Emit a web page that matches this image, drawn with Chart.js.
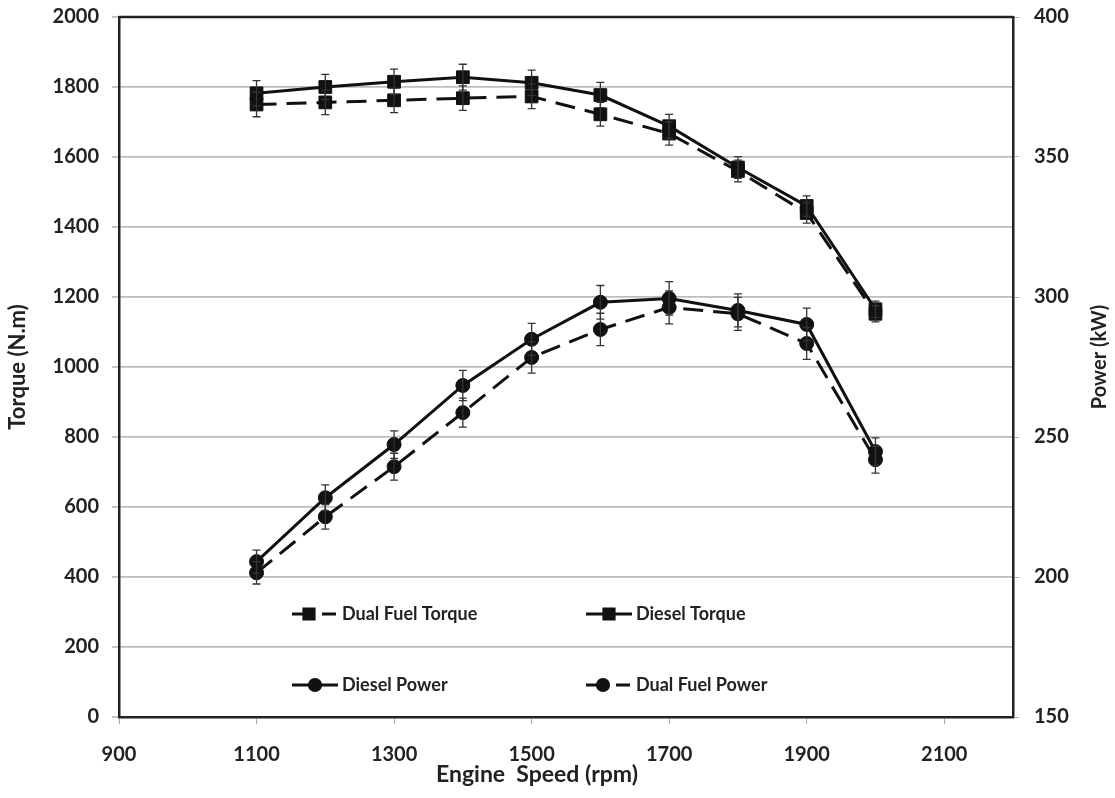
<!DOCTYPE html>
<html>
<head>
<meta charset="utf-8">
<script src="https://cdn.jsdelivr.net/npm/chart.js@4.4.1/dist/chart.umd.min.js"></script>
<style>
    html, body { margin: 0; padding: 0; background: #fff; }
    #wrap { width: 1115px; height: 798px; }
</style>
</head>
<body>
<div id="wrap"><canvas id="engineChart" width="1115" height="798"></canvas></div>
<script>
// Engine speed (rpm) of each measurement
const speeds = [1100, 1200, 1300, 1400, 1500, 1600, 1700, 1800, 1900, 2000];

// Torque (N.m), left axis
const dieselTorque   = [1782, 1800, 1815, 1828, 1812, 1777, 1688, 1570, 1460, 1165];
const dualTorque     = [1750, 1756, 1762, 1768, 1773, 1722, 1667, 1560, 1440, 1152];
const dieselTorqueErr = [36, 36, 36, 37, 36, 36, 34, 31, 29, 23];
const dualTorqueErr   = [35, 35, 35, 35, 35, 34, 33, 31, 29, 23];

// Power (kW), right axis
const dieselPower   = [205.5, 228.3, 247.3, 268.4, 284.9, 298.1, 299.5, 295.2, 290.2, 244.8];
const dualPower     = [201.5, 221.5, 239.4, 258.7, 278.4, 288.4, 296.3, 294.0, 283.4, 241.9];
const dieselPowerErr = [4.1, 4.6, 4.9, 5.4, 5.7, 6.0, 6.0, 5.9, 5.8, 4.9];
const dualPowerErr   = [4.0, 4.4, 4.8, 5.2, 5.6, 5.8, 5.9, 5.9, 5.7, 4.8];

// Axis ticks
const speedTicks = [900, 1100, 1300, 1500, 1700, 1900, 2100];
const torqueTicks = [0, 200, 400, 600, 800, 1000, 1200, 1400, 1600, 1800, 2000];
const powerTicks = [150, 200, 250, 300, 350, 400];

const FONT = 'Lato';
const INK = '#222';

function pairs(vals) {
    return vals.map((v, i) => ({ x: speeds[i], y: v }));
}

function series(label, vals, errs, axis, dashed, shape) {
    return {
        label: label,
        data: pairs(vals),
        errors: errs,
        yAxisID: axis,
        borderColor: '#111',
        backgroundColor: '#111',
        borderWidth: 3,
        borderDash: dashed ? [20, 10] : [],
        pointStyle: shape,
        pointRadius: shape === 'rect' ? 9 : 7,
        pointBorderWidth: 1,
        pointBackgroundColor: '#111',
        pointBorderColor: '#111',
        tension: 0
    };
}

// keep Chart.js from adding room for half tick labels
function noEdgePadding(s) {
    s.paddingTop = 0; s.paddingBottom = 0;
    s.paddingLeft = 0; s.paddingRight = 0;
}

// Error bars with small caps, drawn through the chart's own scales
const errorBars = {
    id: 'errorBars',
    afterDatasetsDraw(chart) {
        const ctx = chart.ctx;
        const xs = chart.scales.x;
        ctx.save();
        ctx.strokeStyle = '#333';
        ctx.lineWidth = 1.3;
        chart.data.datasets.forEach(ds => {
            const ys = chart.scales[ds.yAxisID];
            ds.data.forEach((p, i) => {
                const e = ds.errors[i];
                const x = xs.getPixelForValue(p.x);
                const yt = ys.getPixelForValue(p.y + e);
                const yb = ys.getPixelForValue(p.y - e);
                ctx.beginPath();
                ctx.moveTo(x, yt); ctx.lineTo(x, yb);
                ctx.moveTo(x - 4, yt); ctx.lineTo(x + 4, yt);
                ctx.moveTo(x - 4, yb); ctx.lineTo(x + 4, yb);
                ctx.stroke();
            });
        });
        ctx.restore();
    }
};

// Top frame line, axis titles that Chart.js can't place like Excel, and the 2 x 2 legend
const frameAndLegend = {
    id: 'frameAndLegend',
    afterDraw(chart, args, opts) {
        const ctx = chart.ctx;
        const a = chart.chartArea;
        ctx.save();
        ctx.strokeStyle = '#222';
        ctx.lineWidth = 2.5;
        ctx.beginPath();
        ctx.moveTo(a.left, a.top);
        ctx.lineTo(a.right, a.top);
        ctx.stroke();

        ctx.fillStyle = INK;
        ctx.textAlign = 'center';
        ctx.textBaseline = 'middle';

        // x title, sits a little left of the plot centre
        ctx.font = 'bold 23px ' + FONT;
        ctx.fillText('Engine  Speed (rpm)', a.left + opts.xTitleShift, chart.height - opts.xTitleInset);

        // right title, reads bottom to top
        ctx.save();
        ctx.translate(chart.width - opts.rightTitleInset, (a.top + a.bottom) / 2 - 10);
        ctx.rotate(-Math.PI / 2);
        ctx.font = 'bold 20px ' + FONT;
        ctx.fillText('Power (kW)', 0, 0);
        ctx.restore();

        chart.data.datasets.forEach((ds, i) => {
            const col = i % 2, row = Math.floor(i / 2);
            const x0 = a.left + opts.cols[col];
            const y0 = a.top + opts.rows[row];
            const dashed = ds.borderDash.length > 0;
            ctx.strokeStyle = '#111';
            ctx.lineWidth = 3;
            ctx.setLineDash(dashed ? [22, 8, 14, 100] : []);
            ctx.beginPath();
            ctx.moveTo(x0, y0);
            ctx.lineTo(x0 + opts.sample, y0);
            ctx.stroke();
            ctx.setLineDash([]);
            Chart.helpers.drawPoint(ctx, {
                pointStyle: ds.pointStyle,
                radius: ds.pointRadius * 0.8,
                borderWidth: 1
            }, x0 + (dashed ? 17 : opts.sample / 2), y0);
            ctx.fillStyle = '#111';
            ctx.fill();
            ctx.fillStyle = INK;
            ctx.font = 'bold 18px ' + FONT;
            ctx.textAlign = 'left';
            ctx.fillText(ds.label, x0 + opts.sample + 4, y0);
        });
        ctx.restore();
    }
};

const tickFont = { family: FONT, size: 20, weight: 'bold' };
const plain = v => String(v);

const ctx = document.getElementById('engineChart').getContext('2d');
new Chart(ctx, {
    type: 'line',
    data: {
        datasets: [
            series('Dual Fuel Torque', dualTorque, dualTorqueErr, 'y', true, 'rect'),
            series('Diesel Torque', dieselTorque, dieselTorqueErr, 'y', false, 'rect'),
            series('Diesel Power', dieselPower, dieselPowerErr, 'y1', false, 'circle'),
            series('Dual Fuel Power', dualPower, dualPowerErr, 'y1', true, 'circle')
        ]
    },
    plugins: [errorBars, frameAndLegend],
    options: {
        responsive: false,
        animation: false,
        devicePixelRatio: 1,
        layout: { padding: { top: 17, left: 0, right: 0, bottom: 0 } },
        plugins: {
            legend: { display: false },
            tooltip: { enabled: false },
            frameAndLegend: {
                cols: [173, 467], rows: [597, 668], sample: 46,
                rightTitleInset: 15, xTitleShift: 418, xTitleInset: 23
            }
        },
        scales: {
            x: {
                type: 'linear',
                min: 900,
                max: 2200,
                afterBuildTicks: s => { s.ticks = speedTicks.map(v => ({ value: v })); },
                afterFit: s => { s.height = 81; noEdgePadding(s); },
                ticks: { font: tickFont, color: INK, padding: 19, maxRotation: 0, callback: plain },
                grid: { drawOnChartArea: false, drawTicks: true, tickLength: 7, color: '#aaa' },
                border: { display: true, color: '#222', width: 2.5 },
                title: { display: false }
            },
            y: {
                position: 'left',
                min: 0,
                max: 2000,
                afterBuildTicks: s => { s.ticks = torqueTicks.map(v => ({ value: v })); },
                afterFit: s => { s.width = 119; noEdgePadding(s); },
                ticks: { font: tickFont, color: INK, padding: 13, callback: plain },
                grid: { color: '#bdbdbd', lineWidth: 1.8, tickLength: 7 },
                border: { display: true, color: '#222', width: 2.5 },
                title: {
                    display: true,
                    text: 'Torque (N.m)',
                    font: { family: FONT, size: 22, weight: 'bold' },
                    color: INK,
                    padding: { top: 5, bottom: 0 }
                }
            },
            y1: {
                position: 'right',
                min: 150,
                max: 400,
                afterBuildTicks: s => { s.ticks = powerTicks.map(v => ({ value: v })); },
                afterFit: s => { s.width = 102; noEdgePadding(s); },
                ticks: { font: tickFont, color: INK, padding: 15, callback: plain },
                grid: { drawOnChartArea: false, color: '#aaa', tickLength: 6 },
                border: { display: true, color: '#222', width: 2.5 },
                title: { display: false }
            }
        }
    }
});
</script>
</body>
</html>
